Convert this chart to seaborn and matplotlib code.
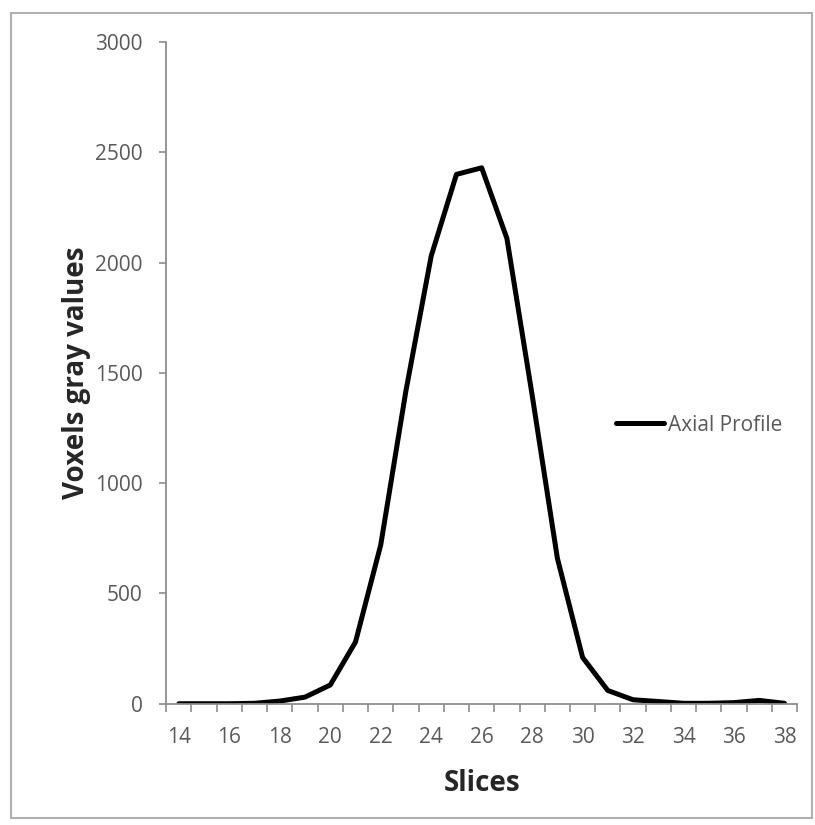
import matplotlib.pyplot as plt
import matplotlib.patches as mpatches
import numpy as np
import pandas as pd
import seaborn as sns

# axial profile
slices = list(range(14, 39))
gray_values = [0, 0, 0, 2, 12, 30, 85, 280, 720, 1420, 2030, 2400, 2430,
               2110, 1400, 660, 210, 60, 18, 10, 2, 2, 5, 15, 2]
series_name = "Axial Profile"
y_ticks = [0, 500, 1000, 1500, 2000, 2500, 3000]
x_labels = list(range(14, 39, 2))

df = pd.DataFrame({"Slices": slices, "value": gray_values, "series": series_name})

sns.set_style("white")
plt.rcParams["font.family"] = ["Open Sans", "DejaVu Sans"]

fig = plt.figure(figsize=(8.15, 8.25), dpi=100)
ax = fig.add_axes([0.204, 0.147, 0.774, 0.802])

sns.lineplot(data=df, x="Slices", y="value", hue="series", palette=["black"],
             linewidth=3.6, ax=ax)

ax.set_xlim(13.5, 38.5)
ax.set_ylim(0, 3000)
ax.set_yticks(y_ticks)
ax.set_xticks(x_labels)
ax.set_xticks(np.arange(13.5, 39.0, 1.0), minor=True)

axis_gray = "#8c8c8c"
label_gray = "#595959"
for side in ["top", "right"]:
    ax.spines[side].set_visible(False)
for side in ["left", "bottom"]:
    ax.spines[side].set_color(axis_gray)
    ax.spines[side].set_linewidth(1.3)

ax.tick_params(axis="y", which="major", direction="out", length=5, width=1.2,
               color=axis_gray, labelcolor=label_gray, labelsize=15, pad=12, left=True)
ax.tick_params(axis="x", which="major", length=0, labelcolor=label_gray,
               labelsize=15, pad=17)
ax.tick_params(axis="x", which="minor", direction="out", length=6, width=1.2,
               color=axis_gray, bottom=True)

ax.set_xlabel("Slices", fontsize=20, fontweight="bold", color="#262626", labelpad=15)
ax.set_ylabel("Voxels gray values", fontsize=20, fontweight="bold", color="#262626",
              labelpad=3)

leg = ax.legend(loc="center left", bbox_to_anchor=(0.70, 0.421), frameon=False,
                handlelength=2.3, handletextpad=0.2, fontsize=15, borderaxespad=0)
for t in leg.get_texts():
    t.set_color(label_gray)
leg.set_title(None)

# outer chart border
fig.patches.append(mpatches.Rectangle((0.014, 0.008), 0.982, 0.976, transform=fig.transFigure,
                                      fill=False, edgecolor="#b0b0b0", linewidth=1.5))

fig.savefig("out.png", dpi=100)
plt.close(fig)
